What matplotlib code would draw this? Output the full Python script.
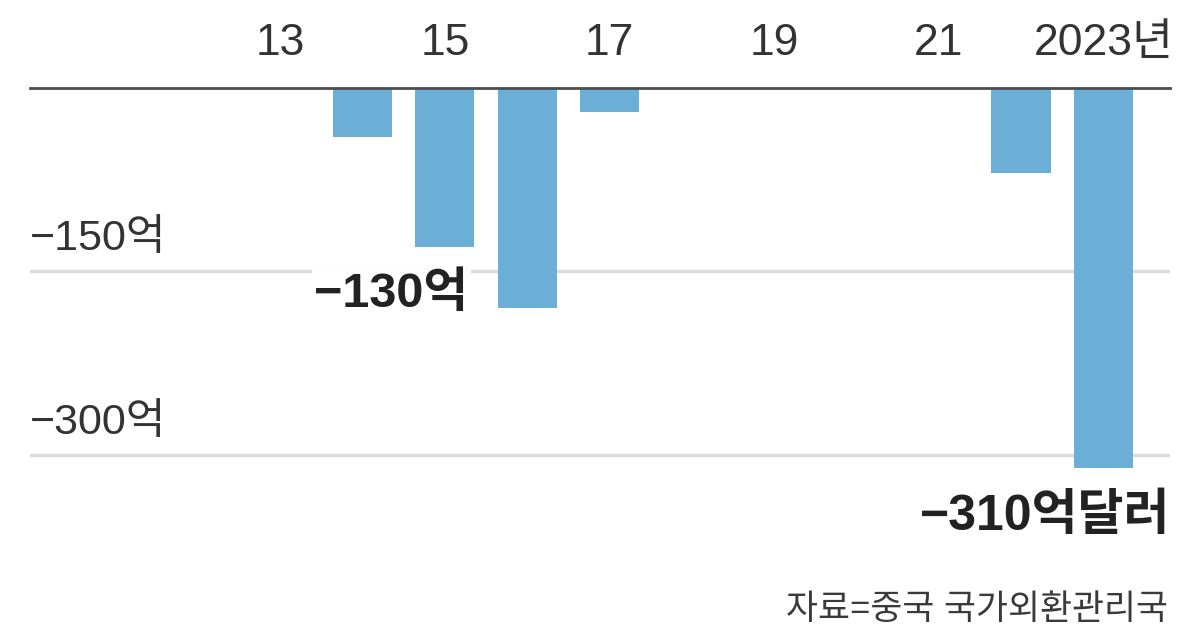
import matplotlib

matplotlib.use("Agg")
import matplotlib.pyplot as plt

# yearly values, 100 million USD (억 달러)
years = [2014, 2015, 2016, 2017, 2022, 2023]
values = [-40, -130, -180, -20, -70, -310]

tick_years = [2013, 2015, 2017, 2019, 2021, 2023]
tick_labels = ["13", "15", "17", "19", "21", "2023년"]

grid_values = [-150, -300]
grid_labels = ["−150억", "−300억"]

BAR = "#6baed6"
FONTS = ["Liberation Sans Narrow", "Liberation Sans", "Noto Sans CJK KR", "DejaVu Sans"]

plt.rcParams["font.family"] = FONTS

fig = plt.figure(figsize=(12, 6.3), dpi=100)
ax = fig.add_axes([0.025, 1 - 480 / 630, 0.95, 392.5 / 630])

ax.bar(years, values, width=0.72, color=BAR, zorder=2)

ax.set_xlim(2009.96, 2023.81)
ax.set_ylim(-320, 0)

# gridlines with labels sitting above them
for v, lab in zip(grid_values, grid_labels):
    ax.axhline(v, color="#dcdcdc", lw=2.4, zorder=1)
    ax.annotate(lab, xy=(0, v), xycoords=ax.get_yaxis_transform(),
                xytext=(0, 21), textcoords="offset pixels",
                ha="left", va="baseline", fontsize=31, color="#333333")

for s in ["left", "right", "bottom"]:
    ax.spines[s].set_visible(False)
ax.spines["top"].set_color("#4d4d4d")
ax.spines["top"].set_linewidth(2)
ax.spines["top"].set_zorder(3)

ax.set_yticks([])
ax.xaxis.tick_top()
ax.set_xticks(tick_years)
ax.set_xticklabels(tick_labels, fontsize=32, color="#333333")
ax.tick_params(axis="x", length=0, pad=17)

# value callouts
ax.annotate("−130억", xy=(2015 + 0.36, -130), xycoords="data",
            xytext=(-6, -60), textcoords="offset pixels",
            ha="right", va="baseline", fontsize=35, fontweight="bold",
            color="#222222", zorder=4,
            bbox=dict(boxstyle="square,pad=0.05", fc="white", ec="none"))
ax.annotate("−310억달러", xy=(1.0, -310), xycoords=ax.get_yaxis_transform(),
            xytext=(0, -62), textcoords="offset pixels",
            ha="right", va="baseline", fontsize=36, fontweight="bold",
            color="#222222")

fig.text(0.973, 0.018, "자료=중국 국가외환관리국", ha="right", va="baseline",
         fontsize=25, color="#3a3a3a")

fig.savefig("out.png", dpi=100, facecolor="white")
